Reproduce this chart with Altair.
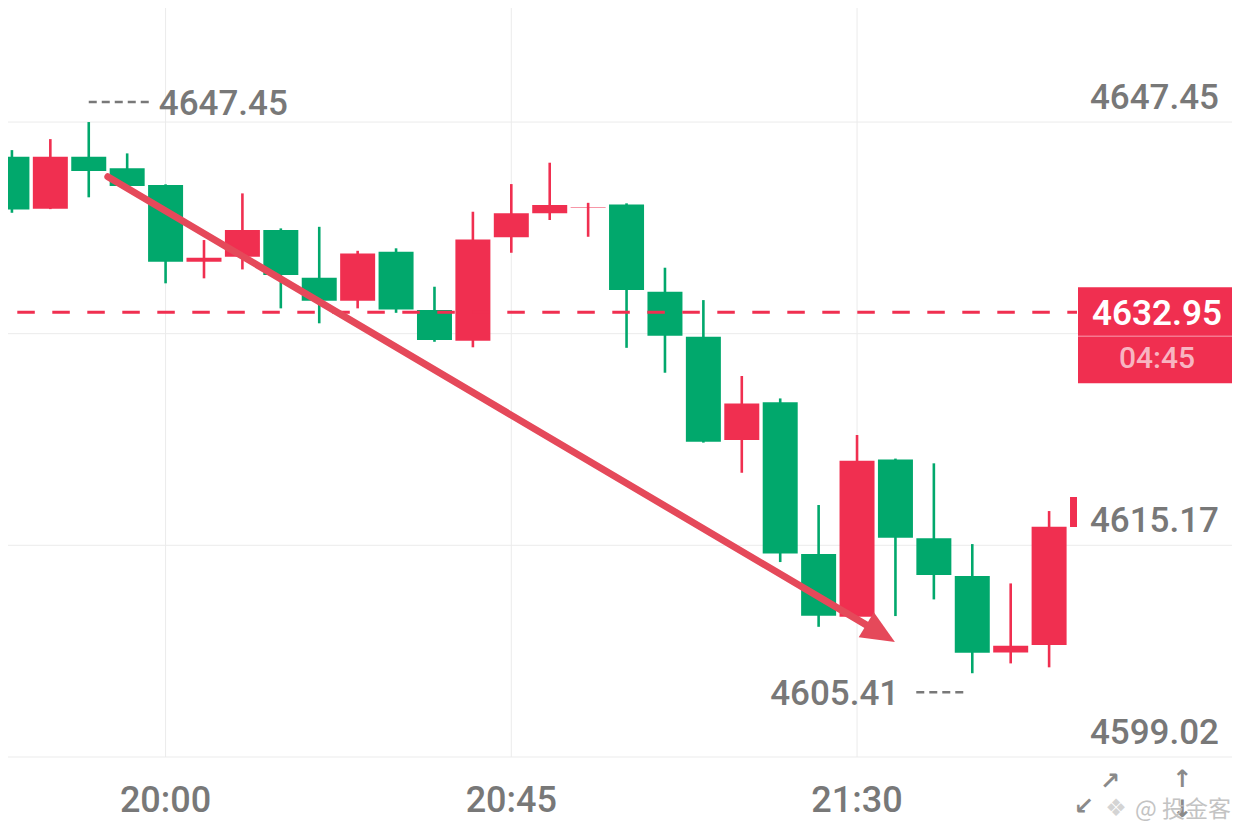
import altair as alt
import pandas as pd

# ---------------- data ----------------
times  = ["19:40","19:45","19:50","19:55","20:00","20:05","20:10","20:15","20:20","20:25",
          "20:30","20:35","20:40","20:45","20:50","20:55","21:00","21:05","21:10","21:15",
          "21:20","21:25","21:30","21:35","21:40","21:45","21:50","21:55","22:00"]
opens  = [4644.80,4640.84,4644.80,4643.92,4642.64,4636.79,4637.18,4639.21,4635.57,4633.82,
          4637.56,4633.11,4630.77,4638.66,4640.49,4640.93,4641.17,4634.51,4631.07,4623.19,
          4626.07,4614.50,4609.72,4621.72,4615.70,4612.82,4607.00,4607.56,4616.56]
highs  = [4645.31,4646.15,4647.45,4645.06,4642.70,4638.45,4642.01,4639.34,4639.46,4637.63,
          4637.82,4634.89,4640.61,4642.72,4644.35,4641.29,4641.25,4636.34,4633.87,4628.08,
          4626.37,4618.24,4623.58,4621.78,4621.42,4615.26,4612.26,4617.78,4618.85]
lows   = [4640.53,4640.81,4641.71,4642.53,4635.15,4635.53,4636.21,4633.24,4632.10,4633.24,
          4632.90,4630.69,4630.27,4637.48,4639.98,4638.70,4630.23,4628.33,4623.00,4620.70,
          4613.89,4608.95,4609.46,4609.77,4611.04,4605.41,4606.16,4605.86,4616.50]
closes = [4640.79,4644.80,4643.71,4642.57,4636.79,4637.10,4639.21,4635.78,4633.82,4637.43,
          4633.16,4630.82,4638.50,4640.49,4641.12,4640.97,4634.64,4631.15,4623.06,4625.99,
          4614.55,4609.79,4621.62,4615.74,4612.90,4606.97,4607.50,4616.58,4618.85]

grid_prices  = [4647.45, 4631.31, 4615.17, 4599.02]
label_prices = [4647.45, 4615.17, 4599.02]
label_texts  = ["4647.45", "4615.17", "4599.02"]
grid_times   = ["20:00", "20:45", "21:30"]

last_price = 4632.95
last_price_text = "4632.95"
countdown = "04:45"

high_time, high_price, high_text = "19:50", 4647.45, "4647.45"
low_time, low_price, low_text = "21:45", 4605.41, "4605.41"

arrow_times  = ["19:52:29", "21:33:04"]
arrow_prices = [4643.28, 4608.45]

icon_glyphs = ["↗", "↙", "↑", "↓"]
watermark = "@ 投金客"

# ---------------- styles ----------------
RED = "#F02F50"
GREEN = "#01A86C"
ARROW = "#E5495A"
GRID = "#EBEBEB"
TXT = "#787878"
FONT = "Roboto"
W, H = 1069, 749


def to_min(s):
    parts = [float(p) for p in s.split(":")]
    m = parts[0] * 60 + parts[1]
    if len(parts) > 2:
        m += parts[2] / 60.0
    return m


candles = pd.DataFrame({
    "m": [to_min(t) for t in times],
    "open": opens, "high": highs, "low": lows, "close": closes,
})
candles["dir"] = ["up" if c >= o else "down" for o, c in zip(opens, closes)]

xs = alt.Scale(domain=[1180.14, 1317.98], nice=False, zero=False)
ys = alt.Scale(domain=[4599.02, 4656.15], nice=False, zero=False)
col = alt.Color("dir:N", scale=alt.Scale(domain=["up", "down"], range=[RED, GREEN]), legend=None)

base = alt.Chart(candles)

# gridlines
vgrid = alt.Chart(pd.DataFrame({"m": [to_min(t) for t in grid_times], "lab": grid_times})).mark_rule(
    color=GRID, strokeWidth=1
).encode(x=alt.X("m:Q", scale=xs, axis=None), y=alt.value(0), y2=alt.value(H))

hgrid = alt.Chart(pd.DataFrame({"p": grid_prices})).mark_rule(
    color=GRID, strokeWidth=1
).encode(y=alt.Y("p:Q", scale=ys, axis=None), x=alt.value(0), x2=alt.value(1224))

# candles
wicks = base.mark_rule(strokeWidth=2.6, clip=True).encode(
    x=alt.X("m:Q", scale=xs, axis=None),
    y=alt.Y("low:Q", scale=ys, axis=None),
    y2="high:Q",
    color=col,
)
bodies = base.mark_bar(size=35, clip=True).encode(
    x=alt.X("m:Q", scale=xs, axis=None),
    y=alt.Y("open:Q", scale=ys, axis=None),
    y2="close:Q",
    color=col,
)

# last price dashed line
last_df = pd.DataFrame({"p": [last_price], "t1": [last_price_text], "t2": [countdown]})
price_line = alt.Chart(last_df).mark_rule(
    color=RED, strokeWidth=3, strokeDash=[17.5, 17.5], strokeDashOffset=25.7
).encode(y=alt.Y("p:Q", scale=ys, axis=None), x=alt.value(0), x2=alt.value(W))

# arrow
arrow_df = pd.DataFrame({"m": [to_min(t) for t in arrow_times], "p": arrow_prices})
arrow_line = alt.Chart(arrow_df).mark_line(color=ARROW, strokeWidth=7, strokeCap="round").encode(
    x=alt.X("m:Q", scale=xs, axis=None), y=alt.Y("p:Q", scale=ys, axis=None)
)
arrow_head = alt.Chart(arrow_df.tail(1)).mark_point(
    shape="M0,-1L0.88,1L-0.88,1Z", filled=True, size=1115, angle=121, color=ARROW, opacity=1
).encode(x=alt.X("m:Q", scale=xs, axis=None), y=alt.Y("p:Q", scale=ys, axis=None))

# high / low markers
hi_df = pd.DataFrame({"m": [to_min(high_time)], "p": [high_price], "t": [high_text]})
lo_df = pd.DataFrame({"m": [to_min(low_time)], "p": [low_price], "t": [low_text]})

hi_dash = alt.Chart(hi_df).mark_rule(
    color=TXT, strokeWidth=2.5, strokeDash=[8, 5], x2Offset=63, yOffset=-20
).encode(x=alt.X("m:Q", scale=xs, axis=None), x2="m:Q", y=alt.Y("p:Q", scale=ys, axis=None))
hi_text = alt.Chart(hi_df).mark_text(
    align="left", baseline="alphabetic", dx=70, dy=-7, font=FONT, fontSize=35, fontWeight=500, color=TXT
).encode(x=alt.X("m:Q", scale=xs, axis=None), y=alt.Y("p:Q", scale=ys, axis=None), text="t:N")

lo_dash = alt.Chart(lo_df).mark_rule(
    color=TXT, strokeWidth=2.5, strokeDash=[8, 5], xOffset=-56, x2Offset=-8, yOffset=19
).encode(x=alt.X("m:Q", scale=xs, axis=None), x2="m:Q", y=alt.Y("p:Q", scale=ys, axis=None))
lo_text = alt.Chart(lo_df).mark_text(
    align="right", baseline="alphabetic", dx=-73, dy=32, font=FONT, fontSize=35, fontWeight=500, color=TXT
).encode(x=alt.X("m:Q", scale=xs, axis=None), y=alt.Y("p:Q", scale=ys, axis=None), text="t:N")

# right price labels
rlab = alt.Chart(pd.DataFrame({"p": label_prices, "t": label_texts})).mark_text(
    align="right", baseline="alphabetic", dy=-13.5, font=FONT, fontSize=35, fontWeight=500, color=TXT
).encode(y=alt.Y("p:Q", scale=ys, axis=None), x=alt.value(1211), text="t:N")

# price tag
tag = alt.Chart(last_df).mark_rect(color=RED, yOffset=-25, y2Offset=71).encode(
    y=alt.Y("p:Q", scale=ys, axis=None), y2="p:Q", x=alt.value(1070), x2=alt.value(1224)
)
tag_sep = alt.Chart(last_df).mark_rule(color="#F6788F", strokeWidth=1.5, yOffset=24).encode(
    y=alt.Y("p:Q", scale=ys, axis=None), x=alt.value(1070), x2=alt.value(1224)
)
tag_t1 = alt.Chart(last_df).mark_text(
    align="center", baseline="alphabetic", dy=13.3, font=FONT, fontSize=35, fontWeight=600, color="white"
).encode(y=alt.Y("p:Q", scale=ys, axis=None), x=alt.value(1149), text="t1:N")
tag_t2 = alt.Chart(last_df).mark_text(
    align="center", baseline="alphabetic", dy=55.6, font=FONT, fontSize=30, fontWeight=500, color="#F8B4C1"
).encode(y=alt.Y("p:Q", scale=ys, axis=None), x=alt.value(1149), text="t2:N")

# time labels
tlab = alt.Chart(pd.DataFrame({"m": [to_min(t) for t in grid_times], "lab": grid_times})).mark_text(
    align="center", baseline="alphabetic", font=FONT, fontSize=36, fontWeight=500, color=TXT
).encode(x=alt.X("m:Q", scale=xs, axis=None), y=alt.value(804), text="lab:N")

# corner icons and watermark
icon_px = [1102, 1076, 1174, 1174]
icon_py = [774, 799, 772, 802]
icon_layers = []
for g, px, py in zip(icon_glyphs, icon_px, icon_py):
    icon_layers.append(
        alt.Chart(pd.DataFrame({"g": [g]})).mark_text(
            align="center", baseline="middle", font="DejaVu Sans", fontSize=24, fontWeight="bold", color="#8A8A8A"
        ).encode(x=alt.value(px), y=alt.value(py), text="g:N")
    )
logo = alt.Chart(pd.DataFrame({"g": ["❖"]})).mark_text(
    align="center", baseline="middle", font="DejaVu Sans", fontSize=24, color="#D4D4D4"
).encode(x=alt.value(1108), y=alt.value(801), text="g:N")
wm = alt.Chart(pd.DataFrame({"g": [watermark]})).mark_text(
    align="left", baseline="middle", font="Noto Sans CJK SC", fontSize=23, color="#BDBDBD", opacity=0.9
).encode(x=alt.value(1127), y=alt.value(802), text="g:N")

chart = alt.layer(
    vgrid, hgrid, wicks, bodies, price_line, arrow_line, arrow_head,
    hi_dash, hi_text, lo_dash, lo_text, rlab, tag, tag_sep, tag_t1, tag_t2, tlab,
    *icon_layers, logo, wm,
).properties(
    width=W, height=H,
    autosize=alt.AutoSizeParams(type="none"),
    padding={"left": 0, "top": 0, "right": 155, "bottom": 66},
    background="white",
).configure_view(stroke=None)

chart.save("out.html", embed_options={"renderer": "svg", "actions": False})
